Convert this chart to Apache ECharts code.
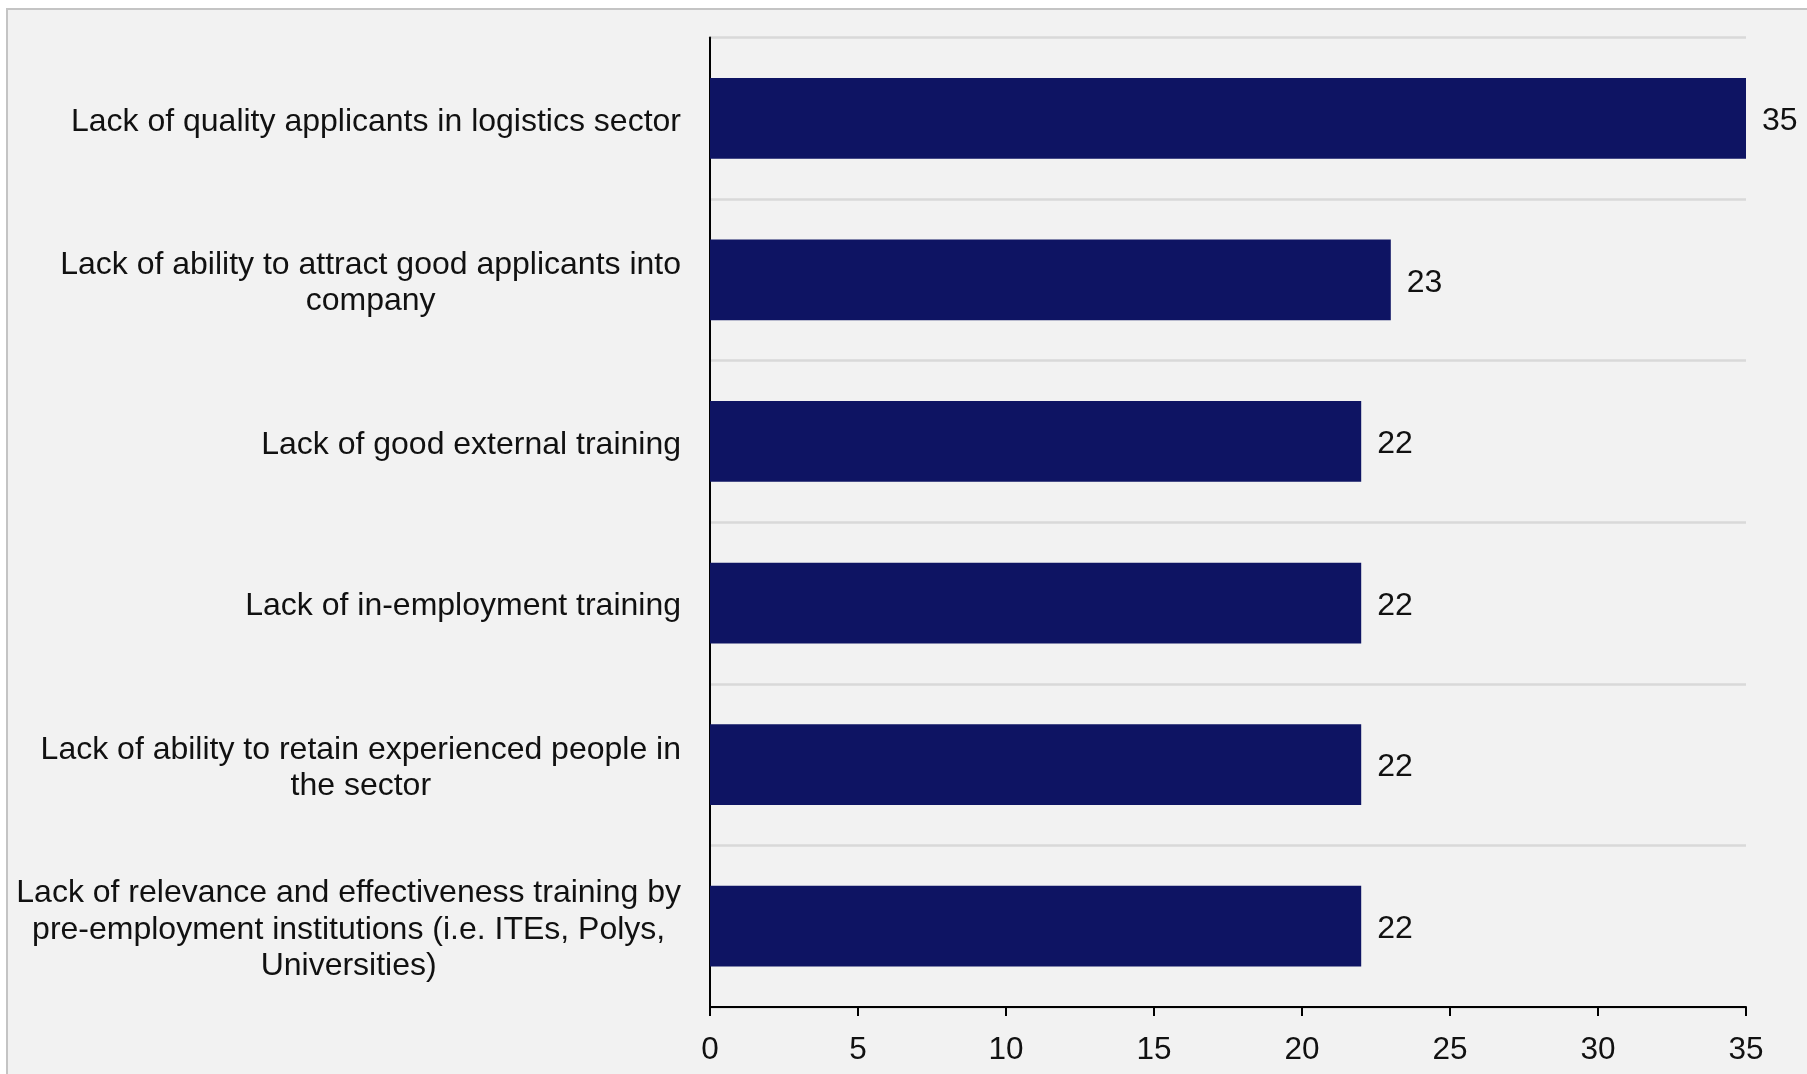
<!DOCTYPE html>
<html>
<head>
<meta charset="utf-8">
<title>Barriers to talent in the logistics sector</title>
<script src="https://cdn.jsdelivr.net/npm/echarts@6/dist/echarts.min.js"></script>
<style>
  html, body { margin: 0; padding: 0; background: #ffffff; overflow: hidden; }
  #frame {
    position: absolute; left: 6px; top: 8px; width: 1830px; height: 1100px;
    background: #f2f2f2; border: 2px solid #c4c4c4; box-sizing: border-box;
  }
  #chart { position: absolute; left: 0; top: 0; width: 1807px; height: 1074px; }
</style>
</head>
<body>
<div id="frame"></div>
<div id="chart"></div>
<script>
// Survey responses: reasons given for the talent shortage (count of respondents)
const categories = [
  'Lack of quality applicants in logistics sector',
  'Lack of ability to attract good applicants into\ncompany',
  'Lack of good external training',
  'Lack of in-employment training',
  'Lack of ability to retain experienced people in\nthe sector',
  'Lack of relevance and effectiveness training by\npre-employment institutions (i.e. ITEs, Polys,\nUniversities)'
];
const values = [35, 23, 22, 22, 22, 22];
const xTicks = { min: 0, max: 35, step: 5 };

const FONT = '"Liberation Sans", Arial, sans-serif';
const TEXT = '#111111';

const chart = echarts.init(document.getElementById('chart'), null, { renderer: 'canvas' });
chart.setOption({
  backgroundColor: 'transparent',
  animation: false,
  grid: { left: 710, right: 61, top: 37.5, bottom: 67, containLabel: false },
  xAxis: {
    type: 'value',
    min: xTicks.min,
    max: xTicks.max,
    interval: xTicks.step,
    axisLine: { show: true, lineStyle: { color: '#000000', width: 2 } },
    axisTick: { show: true, length: 9, lineStyle: { color: '#000000', width: 2 } },
    splitLine: { show: false },
    axisLabel: { color: TEXT, fontSize: 31.5, fontFamily: FONT, margin: 27 }
  },
  yAxis: {
    type: 'category',
    inverse: true,
    data: categories,
    axisLine: { show: true, lineStyle: { color: '#000000', width: 2 } },
    axisTick: { show: false },
    splitLine: { show: true, lineStyle: { color: '#d9d9d9', width: 2.5 } },
    axisLabel: {
      margin: 29,
      align: 'right',
      formatter: (v) => '{c|' + v + '}',
      rich: {
        c: {
          align: 'center', color: TEXT, fontSize: 32, fontFamily: FONT,
          lineHeight: 36.5, padding: [7, 0, 0, 0]
        }
      }
    }
  },
  series: [{
    type: 'bar',
    data: values,
    barWidth: '50%',
    itemStyle: { color: '#0e1463' },
    label: {
      show: true,
      position: 'right',
      distance: 16,
      offset: [0, 3],
      color: TEXT,
      fontSize: 32,
      fontFamily: FONT
    }
  }]
});
</script>
</body>
</html>
